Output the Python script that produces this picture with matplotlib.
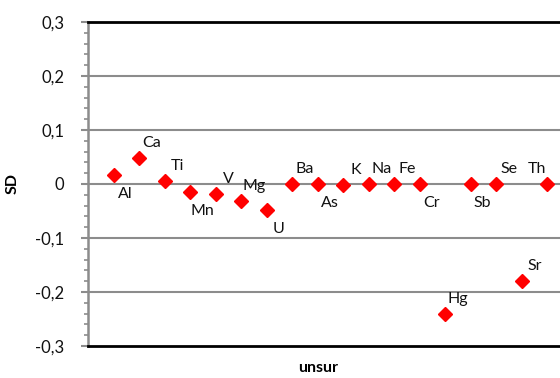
import numpy as np
import matplotlib
matplotlib.use("Agg")
import matplotlib.pyplot as plt
from matplotlib.ticker import FuncFormatter, MultipleLocator

plt.rcParams['font.family'] = ['Lato', 'DejaVu Sans']

elements = ['Al', 'Ca', 'Ti', 'Mn', 'V', 'Mg', 'U', 'Ba', 'As', 'K',
            'Na', 'Fe', 'Cr', 'Hg', 'Sb', 'Se', 'Sr', 'Th']
sd = [0.017, 0.049, 0.006, -0.015, -0.018, -0.032, -0.048, 0.0, 0.0, -0.001,
      0.0, 0.0, 0.0, -0.241, 0.0, 0.0, -0.18, 0.0]
# where each label sits: a = above right, b = below right, l = above left
label_side = ['b', 'a', 'a', 'b', 'a', 'a', 'b', 'a', 'b', 'a',
              'a', 'a', 'b', 'a', 'b', 'a', 'a', 'l']

x = np.arange(1, len(elements) + 1)

fig = plt.figure(figsize=(5.6, 3.78), dpi=100)
ax = fig.add_axes([88 / 560, 1 - 346 / 378, 484.5 / 560, 324 / 378])

for y in [-0.2, -0.1, 0, 0.1, 0.2]:
    ax.axhline(y, color='#8c8c8c', lw=1.5, zorder=1)

ax.plot(x, sd, linestyle='none', marker='D', color='#ff0000',
        markersize=7.5, zorder=3, clip_on=False)

offsets = {'a': (13, 15), 'b': (12, -19), 'l': (-10, 15)}
for xi, yi, name, side in zip(x, sd, elements, label_side):
    dx, dy = offsets[side]
    ax.annotate(name, (xi, yi), xytext=(dx, dy), textcoords='offset pixels',
                ha='center', va='center', fontsize=11.5, color='#111111')

ax.set_xlim(0, 19)
ax.set_ylim(-0.3, 0.3)
ax.set_xticks([])
ax.yaxis.set_major_locator(MultipleLocator(0.1))
ax.yaxis.set_minor_locator(MultipleLocator(0.02))


def fmt(v, pos):
    if abs(v) < 1e-9:
        return '0'
    return ('%.1f' % v).replace('.', ',')


ax.yaxis.set_major_formatter(FuncFormatter(fmt))
ax.tick_params(axis='y', which='major', length=5, width=1.5, color='#8c8c8c',
               labelsize=12, pad=12, direction='out', labelcolor='#111111')
ax.tick_params(axis='y', which='minor', length=3, width=1.2, color='#8c8c8c',
               direction='out')

ax.spines['left'].set_color('#8c8c8c')
ax.spines['left'].set_linewidth(1.8)
ax.spines['top'].set_color('black')
ax.spines['top'].set_linewidth(2)
ax.spines['bottom'].set_color('black')
ax.spines['bottom'].set_linewidth(2)
ax.spines['right'].set_visible(False)

ax.set_ylabel('SD', fontsize=11.5, fontweight='bold')
ax.yaxis.set_label_coords((20 - 88) / 484.5, 0.5)
ax.set_xlabel('unsur', fontsize=11.5, fontweight='bold')
ax.xaxis.set_label_coords((318 - 88) / 484.5, -(361 - 346) / 324)

fig.savefig('out.png', dpi=100)
